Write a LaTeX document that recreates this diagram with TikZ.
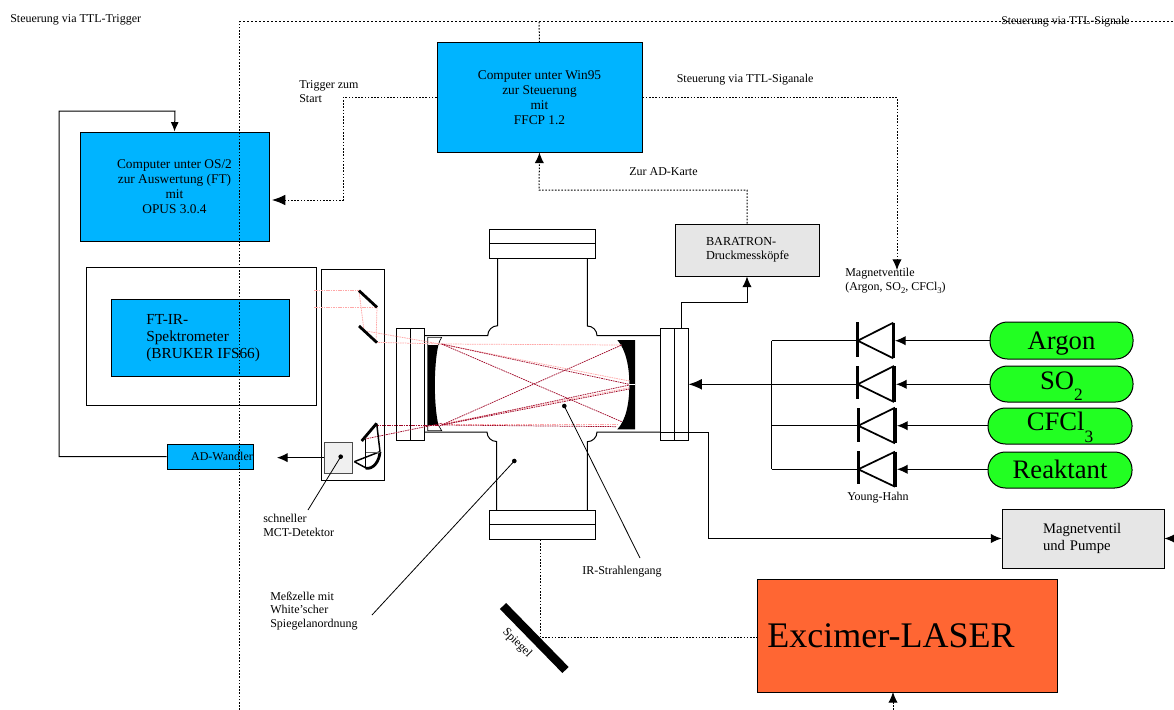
\documentclass[tikz,border=0pt]{standalone}
\usepackage{fontspec}
\setmainfont{Liberation Serif}
\usetikzlibrary{arrows.meta}
\definecolor{cblue}{HTML}{00B4FF}
\definecolor{cgray}{HTML}{E6E6E6}
\definecolor{cgreen}{HTML}{22FF22}
\definecolor{corange}{HTML}{FF6633}
\definecolor{raypale}{HTML}{FFA8A8}
\definecolor{raydark}{HTML}{A00828}
\newcommand{\boxat}[7]{%
  \pgfmathsetmacro\bw{(#4-#2)*0.75}\pgfmathsetmacro\bh{(#5-#3)*0.75}%
  \pgfmathsetmacro\bx{(#2+#4)/2}\pgfmathsetmacro\by{(#3+#5)/2}%
  \node[framed,#6,minimum width=\bw pt,minimum height=\bh pt] (#1) at (\bx,\by) {#7};}
\newcommand{\lowsub}[2]{\raisebox{#1}{\fontsize{13}{13}\selectfont #2}}
\tikzset{
  framed/.style={draw=black,line width=0.75pt,inner sep=0pt,align=center},
  bluebox/.style={fill=cblue,font=\fontsize{10}{11.25}\selectfont},
  graybox/.style={fill=cgray,font=\fontsize{9.2}{10.8}\selectfont},
  plainbox/.style={},
  pill/.style={fill=cgreen,rounded corners=13pt,font=\fontsize{20}{22}\selectfont,text height=0pt,text depth=0pt},
  lab/.style={inner sep=0pt,anchor=west,align=left,font=\fontsize{9}{10.4}\selectfont},
  wire/.style={line width=0.75pt},
  thinwire/.style={line width=0.6pt},
  dots/.style={line width=0.75pt,dash pattern=on 1.2pt off 1.2pt},
  arrowb/.style={-{Latex[length=10pt,width=8pt]}},
  arrowsm/.style={-{Latex[length=7pt,width=6pt]}},
  arrowm/.style={-{Latex[length=8pt,width=7pt]}},
  pale/.style={draw=raypale,line width=0.55pt,dash pattern=on 1.2pt off 0.6pt},
  dark/.style={draw=raydark,line width=0.55pt,dash pattern=on 1.2pt off 0.6pt},
  thickm/.style={line width=2.1pt},
  valvebar/.style={line width=2.6pt},
  valveline/.style={line width=1.3pt}
}
\begin{document}
\begin{tikzpicture}[x=0.75pt,y=-0.75pt]
\useasboundingbox (0,0) rectangle (1174,710);
\fill[white] (0,0) rectangle (1174,710);

% boxes
\boxat{win}{437}{43}{642}{152}{bluebox}{Computer unter Win95\\zur Steuerung\\mit\\FFCP 1.2}
\boxat{os}{80}{132}{269}{241}{bluebox}{Computer unter OS/2\\ zur Auswertung (FT)\\mit\\OPUS 3.0.4}
\boxat{outer}{86}{267}{316}{405}{plainbox}{}
\boxat{ftir}{111}{299}{289}{376}{bluebox}{}
\node[lab,font=\fontsize{11.5}{12.75}\selectfont] (ftirtext) at (146,338) {FT-IR-\\Spektrometer\\(BRUKER IFS66)};
\boxat{adw}{167}{444}{253}{469}{bluebox,font=\fontsize{9}{11}\selectfont}{\hspace*{18pt}AD-Wandler}
\boxat{bara}{675}{224}{819}{276}{graybox,text width=61.5pt,align=left}{BARATRON-\\Druckmessköpfe}
\boxat{pump}{1002}{509}{1164}{568}{graybox,font=\fontsize{11}{12.75}\selectfont,text width=60pt,align=left}{\raisebox{-1pt}{Magnetventil}\\\raisebox{-1pt}{und Pumpe}}
\boxat{laser}{757}{579}{1057}{692}{fill=corange,font=\fontsize{27}{30}\selectfont}{Excimer-LASER\hspace*{24pt}}
\boxat{argon}{990}{322}{1133}{359}{pill}{\raisebox{-6.4pt}{Argon}}
\boxat{so}{990}{366}{1133}{402}{pill}{\raisebox{-4.1pt}{SO\lowsub{-8.25pt}{2}}}
\boxat{cfc}{988}{408}{1132}{444}{pill}{\raisebox{-3.4pt}{CFCl\lowsub{-9pt}{3}}}
\boxat{reak}{988}{452}{1132}{488}{pill}{\raisebox{-6.4pt}{Reaktant}}

% instrument housing and detector
\boxat{house}{321.3}{269.3}{384}{480.7}{plainbox}{}
\boxat{det}{324}{442}{352.7}{473.3}{fill=cgray!60,draw=black!70}{}

% flanges
\boxat{flL}{396.3}{328.7}{424}{440.7}{plainbox}{}
\draw[wire] (flL.north) -- (flL.south);
\boxat{flR}{660.7}{328.7}{688}{440.3}{plainbox}{}
\draw[wire] (flR.north) -- (flR.south);
\boxat{flT}{489.7}{229}{595}{258.3}{plainbox}{}
\draw[wire] (flT.west) -- (flT.east);
\boxat{flB}{489.7}{510.3}{595}{539.3}{plainbox}{}
\draw[wire] (flB.west) -- (flB.east);

% cell outline
\draw[wire] (424,335.7) -- (487.7,335.7) arc[start angle=180,end angle=270,radius=10] -- (497.7,258.3);
\draw[wire] (587.3,258.3) -- (587.3,326) arc[start angle=-90,end angle=0,radius=9.7] -- (660.7,335.7);
\draw[wire] (424,432) -- (487,432) arc[start angle=180,end angle=90,radius=9.5] -- (496.5,510.3);
\draw[wire] (587.3,510.3) -- (587.3,441.7) arc[start angle=90,end angle=0,radius=9.7] -- (660.7,432);

% optics (zoom coordinates: 3 units per pixel)
\begin{scope}[shift={(300,220)},x=0.25pt,y=-0.25pt]
  % cell mirrors
  \fill[black] (382,375) -- (415,375) .. controls (401,440) and (401,550) .. (415,615) -- (382,615) -- cycle;
  \draw[line width=0.5pt] (415,375) .. controls (418,365) and (421,358) .. (425,352) -- (383,352) -- (383,375);
  \draw[line width=0.5pt] (415,615) .. controls (418,625) and (421,626) .. (425,632) -- (383,632) -- (383,615);
  \fill[black] (952,360) -- (1005,360) -- (1005,628) -- (952,628) .. controls (978,600) and (988,550) .. (988,494) .. controls (988,440) and (978,390) .. (952,360) -- cycle;
  \fill[white] (985,491) rectangle (1006,494);
  % pale rays
  \draw[pale] (42,212) -- (177,212);
  \draw[pale] (42,262) -- (231,262);
  \draw[pale] (177,212) -- (192,332);
  \draw[pale] (231,262) -- (228,367);
  \draw[pale] (192,332) -- (420,372) -- (988,483);
  \draw[pale] (228,367) -- (425,372) -- (965,375);
  \draw[pale] (425,612) -- (988,503);
  \draw[pale] (425,612) -- (955,612);
  % dark rays
  \draw[dark] (425,372) -- (988,493);
  \draw[dark] (425,372) -- (965,605);
  \draw[dark] (425,615) -- (965,375);
  \draw[dark] (425,615) -- (988,495);
  \draw[dark] (425,615) -- (988,507);
  \draw[dark] (425,615) -- (950,620);
  \draw[dark] (232,615) -- (425,615);
  \draw[dark] (195,657) -- (425,610);
  % flat mirrors
  \draw[thickm] (177,212) -- (231,262);
  \draw[thickm] (177,318) -- (231,368);
  % detector optics
  \draw[thickm] (185,663) -- (230,610);
  \draw[line width=1.1pt] (230,610) -- (240,695);
  \draw[line width=1.1pt] (197,658) -- (197,740);
  \draw[thickm] (240,695) .. controls (238,725) and (220,748) .. (197,745);
  \draw[line width=1.1pt] (163,725) -- (240,695);
  \draw[line width=1.1pt] (163,725) -- (200,745);
  \draw[line width=0.6pt,black!60] (197,696) -- (240,696);
\end{scope}

% leaders
\coordinate (mctdot) at (340.7,456.7);
\coordinate (mctend) at (308,510);
\coordinate (celldot) at (514.3,461);
\coordinate (cellend) at (372,615);
\coordinate (raydot) at (564.3,406);
\coordinate (rayend) at (640,558);
\fill (mctdot) circle[radius=2.3];
\fill (celldot) circle[radius=2.3];
\fill (raydot) circle[radius=2.3];
\draw[thinwire] (mctdot) -- (mctend);
\draw[thinwire] (celldot) -- (cellend);
\draw[thinwire] (raydot) -- (rayend);

% solid connectors
\coordinate (adin) at (277,457.65);
\draw[wire,arrowm] (det.west) -- (adin);
\draw[wire,arrowsm] (adw.west) -- (59,456.5) |- (175,111) -- (os.north);
\coordinate (flRout) at (681,328.7);
\draw[wire,arrowm] (flRout) -- (681,302) -| (bara.south);
\coordinate (pumpin) at (708,538.5);
\draw[wire] (660.7,432) -- (708,432) -- (pumpin);
\draw[wire,arrowm] (pumpin) -- (pump.west);
\coordinate (pumpright) at (1174,538.5);
\draw[wire,arrowm] (pumpright) -- (pump.east);

% valves
\coordinate (v1) at (857.7,340.7);
\coordinate (v2) at (857.7,384.3);
\coordinate (v3) at (858.3,425.7);
\coordinate (v4) at (858.3,469.3);
\coordinate (bus) at (771.7,384.3);
\draw[valvebar] (857.7,322) -- (857.7,356.7);
\draw[valvebar] (893.3,322.7) -- (893.3,358.3);
\draw[valveline] (v1) -- (893.3,322.7) (v1) -- (893.3,358.3);
\draw[valvebar] (857.7,366) -- (857.7,399.3);
\draw[valvebar] (894,366) -- (894,402);
\draw[valveline] (v2) -- (894,366) (v2) -- (894,402);
\draw[valvebar] (858.3,408) -- (858.3,441.7);
\draw[valvebar] (895,407.7) -- (895,443.3);
\draw[valveline] (v3) -- (895,407.7) (v3) -- (895,443.3);
\draw[valvebar] (858.3,451) -- (858.3,484.3);
\draw[valvebar] (895,451.7) -- (895,486.7);
\draw[valveline] (v4) -- (895,451.7) (v4) -- (895,486.7);
\draw[wire] (771.7,340.7) -- (771.7,469.3);
\draw[wire] (771.7,340.7) -- (v1);
\draw[wire] (771.7,384.3) -- (v2);
\draw[wire] (771.7,425.7) -- (v3);
\draw[wire] (771.7,469.3) -- (v4);
\draw[wire,arrowb] (bus) -- (flR.east |- bus);
\draw[wire,arrowm] (argon.west |- v1) -- (895,340.7);
\draw[wire,arrowm] (so.west |- v2) -- (896,384.3);
\draw[wire,arrowm] (cfc.west |- v3) -- (897,425.7);
\draw[wire,arrowm] (reak.west |- v4) -- (897,469.3);

% dotted connectors
\coordinate (osin) at (272,200);
\coordinate (valvein) at (897,270);
\coordinate (topcorner) at (239,22);
\coordinate (bottomleft) at (239,710);
\coordinate (topright) at (1174,22);
\coordinate (lasertail) at (893,710);
\draw[dots,arrowb] (win.west) -- (343,97.5) -- (343,200) -- (osin);
\draw[dots,arrowm] (win.east) -- (897,97.5) -- (valvein);
\draw[dots,arrowm] (bara.north) -- (747,190) -- (539,190) -- (win.south);
\draw[dots] (win.north) -- (539,22);
\draw[dots] (bottomleft) -- (topcorner);
\draw[dots,dash pattern=on 1.8pt off 1.2pt] (topcorner) -- (topright);
\draw[dots,arrowm] (lasertail) -- (893,692);
\coordinate (spiegelhit) at (540.7,637.7);
\draw[dots] (flB.south -| spiegelhit) -- (spiegelhit) -- (laser.west |- spiegelhit);

% spiegel
\draw[line width=6.5pt] (503,606) -- (565.5,670);

% texts
\node[lab] (t1) at (10,20) {Steuerung via TTL-Trigger};
\node[lab,font=\fontsize{8.8}{10}\selectfont] (t2) at (1001,22) {Steuerung via TTL-Signale};
\node[lab] (t3) at (299,92) {Trigger zum\\Start};
\node[lab] (t4) at (676.5,80) {Steuerung via TTL-Siganale};
\node[lab] (t5) at (629,172) {Zur AD-Karte};
\node[lab] (t6) at (845,281) {Magnetventile\\(Argon, SO\raisebox{-0.25em}{\fontsize{6.5}{7}\selectfont 2}, CFCl\raisebox{-0.25em}{\fontsize{6.5}{7}\selectfont 3})};
\node[lab] (t7) at (847,498) {Young-Hahn};
\node[lab] (t8) at (263,525) {schneller\\MCT-Detektor};
\node[lab] (t9) at (270,611) {Meßzelle mit\\White'scher\\Spiegelanordnung};
\node[lab] (t10) at (582,572) {IR-Strahlengang};
\node[lab,anchor=center,rotate=-45] (t11) at (517,643) {Spiegel};
\end{tikzpicture}
\end{document}
